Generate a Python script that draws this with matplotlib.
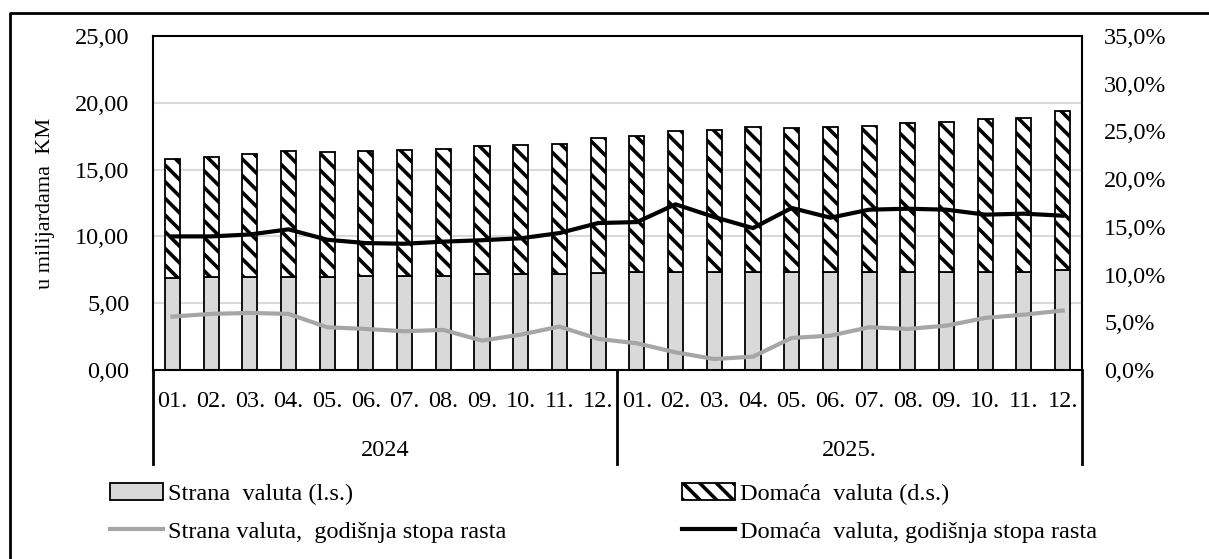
import numpy as np
import matplotlib
matplotlib.use("Agg")
import matplotlib.pyplot as plt
from matplotlib.lines import Line2D
from matplotlib.patches import Patch
from matplotlib.ticker import FuncFormatter, MultipleLocator

plt.rcParams['font.family'] = ['Liberation Serif', 'DejaVu Serif']
plt.rcParams['hatch.linewidth'] = 2.6

# Mjeseci i godine
mjeseci = ["01.", "02.", "03.", "04.", "05.", "06.", "07.", "08.", "09.", "10.", "11.", "12."] * 2
godine = ["2024", "2025."]

# Depoziti u milijardama KM
strana = [6.87, 6.95, 6.95, 6.95, 6.95, 7.05, 7.05, 7.05, 7.15, 7.15, 7.15, 7.25,
          7.35, 7.35, 7.35, 7.35, 7.35, 7.35, 7.35, 7.35, 7.35, 7.35, 7.35, 7.50]
domaca = [8.91, 9.03, 9.23, 9.43, 9.33, 9.33, 9.40, 9.50, 9.60, 9.70, 9.80, 10.15,
          10.15, 10.55, 10.65, 10.85, 10.75, 10.85, 10.95, 11.15, 11.22, 11.42, 11.50, 11.85]

# Godišnje stope rasta (%)
rast_strana = [5.6, 5.88, 5.98, 5.88, 4.48, 4.3, 4.06, 4.2, 3.08, 3.71, 4.55, 3.26,
               2.8, 1.85, 1.15, 1.4, 3.36, 3.6, 4.48, 4.3, 4.65, 5.46, 5.8, 6.23]
rast_domaca = [14.0, 14.0, 14.2, 14.74, 13.65, 13.3, 13.23, 13.45, 13.6, 13.8, 14.35, 15.4,
               15.5, 17.36, 16.03, 14.87, 16.98, 15.96, 16.8, 16.9, 16.8, 16.28, 16.38, 16.17]

FS = 17.5
x = np.arange(len(mjeseci))

fig = plt.figure(figsize=(12.09, 5.59), dpi=100)
ax = fig.add_axes([153 / 1209, 1 - 370 / 559, (1082 - 153) / 1209, (370 - 36) / 559])

ax.bar(x, strana, width=0.39, color='#d9d9d9', edgecolor='black', linewidth=1.3, zorder=2)
ax.bar(x, domaca, width=0.39, bottom=strana, color='white', edgecolor='black',
       hatch='\\\\', linewidth=1.3, zorder=2)

ax.set_xlim(-0.5, len(mjeseci) - 0.5)
ax.set_ylim(0, 25)
ax.yaxis.set_major_locator(MultipleLocator(5))
ax.yaxis.set_major_formatter(FuncFormatter(lambda v, p: f"{v:.2f}".replace('.', ',')))
ax.grid(axis='y', color='#d9d9d9', linewidth=1.5, zorder=0)
ax.set_axisbelow(True)
ax.tick_params(axis='y', length=0, pad=17, labelsize=FS)
ax.tick_params(axis='x', length=0, pad=15, labelsize=FS)
ax.set_xticks(x)
ax.set_xticklabels(mjeseci)
ax.set_ylabel("u milijardama  KM", fontsize=16, labelpad=14)
for s in ax.spines.values():
    s.set_linewidth(1.5)

# Razdjelnici i oznake godina ispod osi
for pos in [-0.5, 11.5, 23.5]:
    ax.plot([pos, pos], [0, -0.282], color='black', linewidth=2,
            transform=ax.get_xaxis_transform(), clip_on=False)
for i, g in enumerate(godine):
    ax.text(5.5 + 12 * i, -0.24, g, transform=ax.get_xaxis_transform(),
            ha='center', va='center', fontsize=FS)

ax2 = ax.twinx()
ax2.plot(x, rast_strana, color='#a6a6a6', linewidth=3, solid_joinstyle='round', zorder=3)
ax2.plot(x, rast_domaca, color='black', linewidth=3, solid_joinstyle='round', zorder=3)
ax2.set_ylim(0, 35)
ax2.yaxis.set_major_locator(MultipleLocator(5))
ax2.yaxis.set_major_formatter(FuncFormatter(lambda v, p: f"{v:.1f}%".replace('.', ',')))
ax2.tick_params(axis='y', length=0, pad=16, labelsize=FS)
for s in ax2.spines.values():
    s.set_visible(False)

# Legenda
handles = [
    Patch(facecolor='#d9d9d9', edgecolor='black', linewidth=1.3),
    Line2D([], [], color='#a6a6a6', linewidth=3),
    Patch(facecolor='white', edgecolor='black', hatch='\\\\', linewidth=1.3),
    Line2D([], [], color='black', linewidth=3),
]
labels = ["Strana  valuta (l.s.)", "Strana valuta,  godišnja stopa rasta",
          "Domaća  valuta (d.s.)", "Domaća  valuta, godišnja stopa rasta"]
fig.legend(handles, labels, ncol=2, loc='upper left', bbox_to_anchor=(110 / 1209, 1 - 483 / 559),
           frameon=False, fontsize=FS, handlelength=2.2, handletextpad=0.2,
           columnspacing=7.2, labelspacing=0.65, borderpad=0, borderaxespad=0)

# Okvir oko grafikona
fig.add_artist(Line2D([10 / 1209, 10 / 1209, 1.0], [0.0, 1 - 13 / 559, 1 - 13 / 559],
                      color='black', linewidth=2, transform=fig.transFigure))

fig.savefig("out.png", dpi=100)
